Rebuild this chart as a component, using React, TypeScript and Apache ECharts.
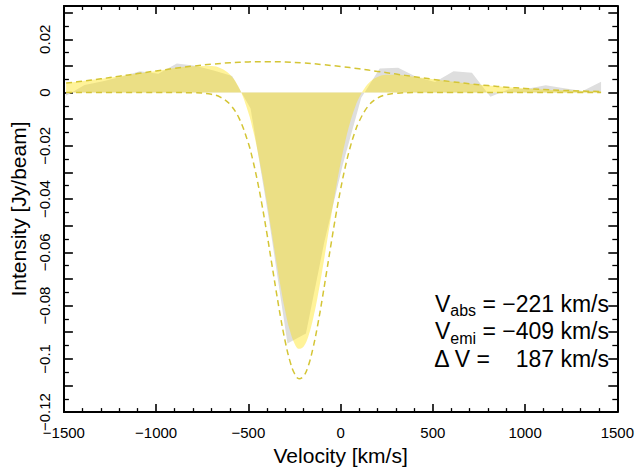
import React, { useEffect, useRef } from 'react';
import * as echarts from 'echarts';

// Observed spectrum (channels, km/s) and intensity (Jy/beam)
const channelVelocity = [-1488, -1388, -1288, -1188, -1088, -988, -888, -788, -688, -588, -488, -388, -288, -188, -88, 12, 112, 212, 312, 412, 512, 612, 712, 812, 912, 1012, 1112, 1212, 1312, 1412];
const observedIntensity = [-0.0012, 0.0028, 0.0042, 0.0059, 0.008, 0.0071, 0.0109, 0.0101, 0.0083, 0.0062, -0.006, -0.048, -0.0942, -0.0905, -0.056, -0.027, -0.002, 0.009, 0.0093, 0.0058, 0.004, 0.008, 0.0074, -0.0016, 0.0012, 0.0014, 0.0027, 0.0016, 0.0006, 0.0041];

// Emission component (dashed)
const emissionVelocity = [-1488, -1400, -1300, -1200, -1100, -1000, -900, -800, -700, -600, -500, -400, -300, -200, -100, 0, 100, 200, 300, 400, 500, 600, 700, 800, 900, 1000, 1100, 1200, 1300, 1412];
const emissionIntensity = [0.00354, 0.00426, 0.00516, 0.00613, 0.00713, 0.00812, 0.00907, 0.00993, 0.01064, 0.01118, 0.0115, 0.0116, 0.01146, 0.01109, 0.01052, 0.00978, 0.00891, 0.00794, 0.00695, 0.00595, 0.00499, 0.00411, 0.00331, 0.00261, 0.00202, 0.00153, 0.00114, 0.00083, 0.00059, 0.00039];

// Absorption component (dashed)
const absorptionVelocity = [-1488, -1000, -800, -700, -650, -600, -550, -500, -475, -450, -425, -400, -375, -350, -325, -300, -275, -250, -225, -200, -175, -150, -125, -100, -75, -50, -25, 0, 25, 50, 75, 100, 150, 200, 250, 300, 400, 600, 1000, 1412];
const absorptionIntensity = [0, 0, -0.00006, -0.00066, -0.0018, -0.00442, -0.0097, -0.01906, -0.02563, -0.03352, -0.04263, -0.05274, -0.06347, -0.07427, -0.08453, -0.09358, -0.10076, -0.10551, -0.10746, -0.10645, -0.10257, -0.0961, -0.08759, -0.07764, -0.06694, -0.05613, -0.04578, -0.03631, -0.02801, -0.02102, -0.01534, -0.01089, -0.00505, -0.00209, -0.00078, -0.00026, -0.00002, 0, 0, 0];

// Total fit (filled yellow)
const fitVelocity = [-1488, -1250, -1000, -800, -700, -650, -600, -550, -500, -475, -450, -425, -400, -375, -350, -325, -300, -275, -250, -225, -200, -175, -150, -125, -100, -75, -50, -25, 0, 25, 50, 75, 100, 150, 200, 250, 300, 400, 600, 800, 1000, 1200, 1412];
const fitIntensity = [0.00354, 0.00564, 0.00812, 0.00987, 0.00998, 0.00913, 0.00676, 0.00167, -0.00756, -0.01408, -0.02194, -0.03103, -0.04114, -0.05188, -0.06271, -0.07301, -0.08212, -0.08937, -0.09421, -0.09625, -0.09536, -0.0916, -0.08527, -0.07691, -0.06712, -0.05659, -0.04596, -0.0358, -0.02653, -0.01844, -0.01167, -0.00621, -0.00198, 0.00338, 0.00585, 0.00667, 0.00669, 0.00593, 0.00411, 0.00261, 0.00153, 0.00083, 0.00039];

const xTicks = { min: -1500, max: 1500, interval: 500 };
const yTicks = { min: -0.12, max: 0.0325, interval: 0.01 };

const annotationLines = [
  { sym: 'V', sub: 'abs', value: ' = \u2212221 km/s' },
  { sym: 'V', sub: 'emi', value: ' = \u2212409 km/s' },
];
const deltaLabel = '\u0394 V =';
const deltaValue = '187 km/s';

export default function App() {
  const ref = useRef<HTMLDivElement>(null);
  useEffect(() => {
    document.body.style.margin = '0';
    const chart = echarts.init(ref.current as HTMLDivElement, null, { renderer: 'svg' });
    const font = 'Liberation Sans, Arial, Helvetica, sans-serif';
    const pair = (xs: number[], ys: number[]) => xs.map((x, i) => [x, ys[i]]);
    const minus = (s: string) => s.replace('-', '\u2212');
    const fmtY = (v: number) => {
      const k = Math.round(v * 1000);
      if (k % 20 !== 0) return '';
      return minus(String(Math.round(v * 100) / 100));
    };
    const black = '#000';
    const xAxisBase = (pos: 'bottom' | 'top', labels: boolean): any => ({
      type: 'value',
      position: pos,
      ...xTicks,
      axisLine: { show: true, onZero: false, lineStyle: { color: black, width: 2 } },
      axisTick: { show: true, inside: true, length: 8, lineStyle: { color: black, width: 1.6 } },
      minorTick: { show: true, splitNumber: 5, length: 4, lineStyle: { color: black, width: 1.3 } },
      splitLine: { show: false },
      minorSplitLine: { show: false },
      axisLabel: {
        show: labels,
        margin: 13,
        fontSize: 15,
        color: black,
        fontFamily: font,
        formatter: (v: number) => minus(String(v)),
      },
      name: labels ? 'Velocity [km/s]' : '',
      nameLocation: 'middle',
      nameGap: 28,
      nameTextStyle: { fontSize: 21, color: black, fontFamily: font },
    });
    const yAxisBase = (pos: 'left' | 'right', labels: boolean): any => ({
      type: 'value',
      position: pos,
      ...yTicks,
      axisLine: { show: true, onZero: false, lineStyle: { color: black, width: 2 } },
      axisTick: { show: true, inside: true, length: 9, lineStyle: { color: black, width: 1.6 } },
      minorTick: { show: true, splitNumber: 2, length: 5, lineStyle: { color: black, width: 1.3 } },
      splitLine: { show: false },
      minorSplitLine: { show: false },
      axisLabel: {
        show: labels,
        rotate: 90,
        margin: 12,
        fontSize: 15,
        color: black,
        fontFamily: font,
        formatter: fmtY,
      },
      name: labels ? 'Intensity [Jy/beam]' : '',
      nameLocation: 'middle',
      nameRotate: 90,
      nameGap: 32,
      nameTextStyle: { fontSize: 21, color: black, fontFamily: font },
    });
    const dashColor = '#d4c535';
    const mainRich = {
      m: { fontSize: 23, fontFamily: font, color: black, lineHeight: 30, verticalAlign: 'middle' },
      s: { fontSize: 16, fontFamily: font, color: black, verticalAlign: 'bottom' },
    };
    const lineY = [303.5, 331];
    const graphics: any[] = annotationLines.map((l, i) => ({
      type: 'text',
      x: 609,
      y: lineY[i],
      z: 100,
      style: {
        text: `{m|${l.sym}}{s|${l.sub}}{m|${l.value}}`,
        rich: mainRich,
        align: 'right',
        verticalAlign: 'middle',
        fill: black,
      },
    }));
    graphics.push({
      type: 'text', x: 490, y: 359, z: 100,
      style: { text: deltaLabel, font: `23px ${font}`, fill: black, align: 'right', verticalAlign: 'middle' },
    });
    graphics.push({
      type: 'text', x: 609, y: 359, z: 100,
      style: { text: deltaValue, font: `23px ${font}`, fill: black, align: 'right', verticalAlign: 'middle' },
    });

    chart.setOption({
      animation: false,
      backgroundColor: '#fff',
      grid: { left: 63, right: 19, top: 6, bottom: 53, containLabel: false },
      xAxis: [xAxisBase('bottom', true), xAxisBase('top', false)],
      yAxis: [yAxisBase('left', true), yAxisBase('right', false)],
      series: [
        {
          type: 'line',
          name: 'observed',
          data: pair(channelVelocity, observedIntensity),
          showSymbol: false,
          lineStyle: { width: 0, opacity: 0 },
          areaStyle: { color: '#dedede', opacity: 1 },
          z: 1,
        },
        {
          type: 'line',
          name: 'fit',
          data: pair(fitVelocity, fitIntensity),
          smooth: 0.4,
          showSymbol: false,
          lineStyle: { width: 0, opacity: 0 },
          areaStyle: { color: 'rgba(255,225,0,0.4)', opacity: 1 },
          z: 2,
        },
        {
          type: 'line',
          name: 'emission',
          data: pair(emissionVelocity, emissionIntensity),
          smooth: 0.4,
          showSymbol: false,
          lineStyle: { width: 1.5, color: dashColor, type: [6, 4] },
          z: 3,
        },
        {
          type: 'line',
          name: 'absorption',
          data: pair(absorptionVelocity, absorptionIntensity),
          smooth: 0.4,
          showSymbol: false,
          lineStyle: { width: 1.5, color: dashColor, type: [6, 4] },
          z: 3,
        },
      ],
      graphic: graphics,
    });
    return () => chart.dispose();
  }, []);
  return <div ref={ref} style={{ width: 637, height: 471 }} />;
}
